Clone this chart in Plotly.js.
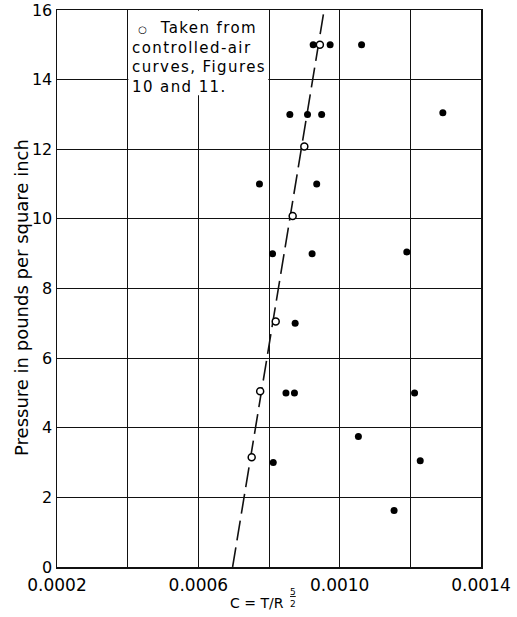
<!DOCTYPE html>
<html>
<head>
<meta charset="utf-8">
<script src="https://cdn.plot.ly/plotly-3.0.1.min.js"></script>
<style>html,body{margin:0;padding:0;background:#fff;}#chart{width:517px;height:617px;}</style>
</head>
<body>
<div id="chart"></div>
<script>
// Filled points (measured data)
var filledX = [0.000925, 0.000973, 0.001062, 0.000859, 0.000909, 0.000949, 0.001292,
               0.000773, 0.000935, 0.000810, 0.000922, 0.001190, 0.000874,
               0.000848, 0.000872, 0.001212, 0.000812, 0.001053, 0.001228, 0.001154];
var filledY = [15, 15, 15, 13, 13, 13, 13.05,
               11, 11, 9, 9, 9.05, 7,
               5, 5, 5, 3, 3.75, 3.05, 1.62];
// Open points: taken from controlled-air curves
var openX = [0.000944, 0.000900, 0.000867, 0.000819, 0.000775, 0.000751];
var openY = [15, 12.08, 10.08, 7.05, 5.05, 3.15];
// Dashed fitted line
var lineX = [0.000697, 0.000956];
var lineY = [0, 16];
var xTicks = [0.0002, 0.0006, 0.0010, 0.0014];
var xTickLabels = ['0.0002', '0.0006', '0.0010', '0.0014'];
var yTicks = [0, 2, 4, 6, 8, 10, 12, 14, 16];

var FONT = 'DejaVu Sans, sans-serif';

var traces = [
  {x: lineX, y: lineY, mode: 'lines', type: 'scatter',
   line: {color: '#111', width: 1.6, dash: '20px,7px'}, hoverinfo: 'skip'},
  {x: filledX, y: filledY, mode: 'markers', type: 'scatter',
   marker: {color: '#000', size: 7, symbol: 'circle'}},
  {x: openX, y: openY, mode: 'markers', type: 'scatter', cliponaxis: false,
   marker: {color: '#fff', size: 7, symbol: 'circle', line: {color: '#000', width: 1.5}}}
];

var layout = {
  width: 517, height: 617,
  margin: {l: 57, r: 36, t: 10, b: 50},
  paper_bgcolor: '#fff', plot_bgcolor: '#fff',
  showlegend: false,
  font: {family: FONT, color: '#000'},
  xaxis: {
    range: [0.0002, 0.0014],
    tickmode: 'array', tickvals: xTicks, ticktext: xTickLabels,
    showgrid: false, zeroline: false,
    showline: true, mirror: true, linecolor: '#111', linewidth: 1.5,
    ticks: '', ticklabelstandoff: 2, tickfont: {family: FONT, size: 17, color: '#000'},
    minor: {dtick: 0.0002, tick0: 0.0002, showgrid: true, gridcolor: '#111', gridwidth: 1}
  },
  yaxis: {
    range: [0, 16], tickmode: 'array', tickvals: yTicks,
    showgrid: true, gridcolor: '#111', gridwidth: 1, zeroline: false,
    showline: true, mirror: true, linecolor: '#111', linewidth: 1.5,
    ticks: '', tickfont: {family: FONT, size: 16, color: '#000'}
  },
  shapes: [
    {type: 'rect', xref: 'x', yref: 'y', x0: 0.000402, x1: 0.000798, y0: 13.55, y1: 15.98,
     fillcolor: '#fff', line: {width: 0}, layer: 'between'}
  ],
  annotations: [
    {xref: 'paper', yref: 'paper', x: 0.172, y: 0.988, xanchor: 'left', yanchor: 'top',
     align: 'left', showarrow: false,
     text: '<span style="letter-spacing:1.4px">&nbsp;<span style="font-size:10px">○</span>&nbsp;&nbsp;Taken from<br>controlled-air<br>curves, Figures<br>10 and 11.</span>',
     font: {family: FONT, size: 15, color: '#000'}},
    {xref: 'paper', yref: 'paper', x: -0.0825, y: 0.483, xanchor: 'center', yanchor: 'middle',
     textangle: -90, showarrow: false, text: 'Pressure in pounds per square inch',
     font: {family: FONT, size: 18, color: '#000'}},
    {xref: 'paper', yref: 'paper', x: 0.472, y: -0.0646, xanchor: 'center', yanchor: 'middle',
     showarrow: false, text: 'C = T/R', font: {family: FONT, size: 14, color: '#000'}},
    {xref: 'paper', yref: 'paper', x: 0.556, y: -0.056, xanchor: 'center', yanchor: 'middle',
     showarrow: false, text: '<u>5</u><br>2', font: {family: FONT, size: 9, color: '#000'}}
  ]
};

Plotly.newPlot('chart', traces, layout, {displayModeBar: false, staticPlot: true});
</script>
</body>
</html>
